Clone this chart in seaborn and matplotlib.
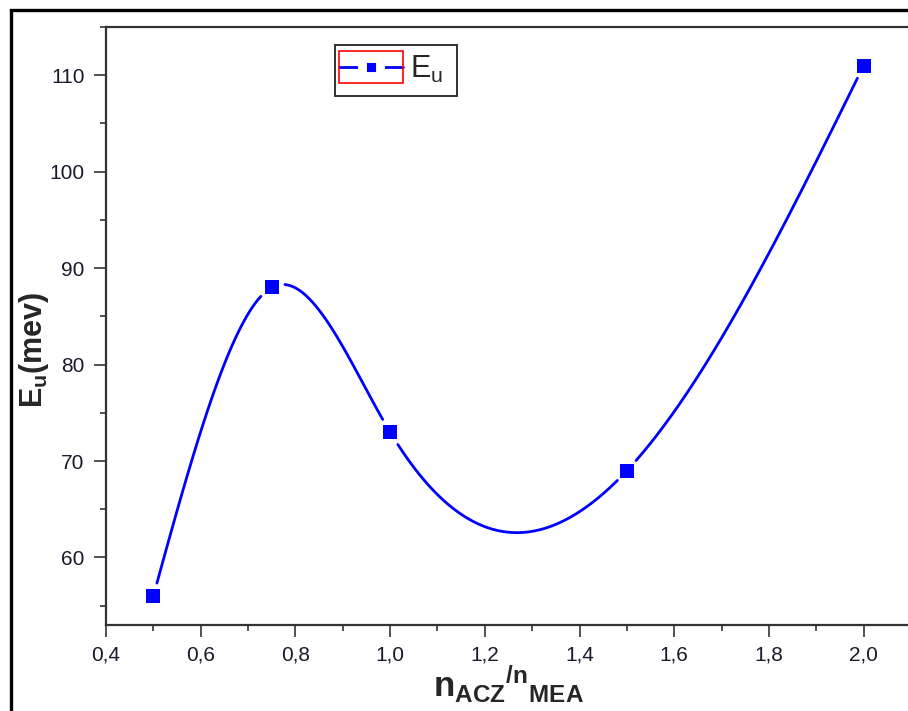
import numpy as np
import pandas as pd
import matplotlib
matplotlib.use('Agg')
import matplotlib.pyplot as plt
from matplotlib.lines import Line2D
from matplotlib.patches import Rectangle
from matplotlib.ticker import MultipleLocator, FuncFormatter
import seaborn as sns

# valores
ratio = [0.5, 0.75, 1.0, 1.5, 2.0]
eu_mev = [56, 88, 73, 69, 111]
serie = 'E$_{\\mathrm{u}}$'


def spline_natural(x, y, xs):
    # spline cubico natural, como la conexion "Spline" de Origin
    x = np.asarray(x, float)
    y = np.asarray(y, float)
    n = len(x)
    h = np.diff(x)
    A = np.zeros((n, n))
    b = np.zeros(n)
    A[0, 0] = A[-1, -1] = 1
    for i in range(1, n - 1):
        A[i, i - 1] = h[i - 1]
        A[i, i] = 2 * (h[i - 1] + h[i])
        A[i, i + 1] = h[i]
        b[i] = 6 * ((y[i + 1] - y[i]) / h[i] - (y[i] - y[i - 1]) / h[i - 1])
    M = np.linalg.solve(A, b)
    k = np.clip(np.searchsorted(x, xs) - 1, 0, n - 2)
    t0 = xs - x[k]
    t1 = x[k + 1] - xs
    hk = h[k]
    return (M[k] * t1 ** 3 / (6 * hk) + M[k + 1] * t0 ** 3 / (6 * hk)
            + (y[k] / hk - M[k] * hk / 6) * t1 + (y[k + 1] / hk - M[k + 1] * hk / 6) * t0)


sns.set_style('ticks')
plt.rcParams['font.family'] = ['Liberation Sans', 'DejaVu Sans']
plt.rcParams['mathtext.fontset'] = 'custom'
plt.rcParams['mathtext.rm'] = 'Liberation Sans'
plt.rcParams['mathtext.bf'] = 'Liberation Sans:bold'
plt.rcParams['mathtext.it'] = 'Liberation Sans:italic'

fig = plt.figure(figsize=(9.08, 7.11), dpi=100)
ax = fig.add_axes([106 / 908, 86 / 711, 805 / 908, 598 / 711])
ax.set_xlim(0.4, 2.1)
ax.set_ylim(53, 115)

# curva suave con huecos alrededor de los simbolos
xs = np.linspace(ratio[0], ratio[-1], 800)
ys = spline_natural(ratio, eu_mev, xs)
pix = ax.transData.transform(np.column_stack([xs, ys]))
pts = ax.transData.transform(np.column_stack([ratio, eu_mev]))
dist = np.min(np.hypot(pix[:, None, 0] - pts[None, :, 0], pix[:, None, 1] - pts[None, :, 1]), axis=1)
visible = dist > 13
seg = np.cumsum(np.r_[0, np.diff(visible.astype(int)) != 0])
curva = pd.DataFrame({'x': xs, 'y': ys, 'seg': seg})[visible]

sns.lineplot(data=curva, x='x', y='y', units='seg', estimator=None, sort=False,
             color='#0000ff', lw=2.0, ax=ax, legend=False)
sns.scatterplot(x=ratio, y=eu_mev, marker='s', s=105, color='#0000ff',
                edgecolor='#0000ff', linewidth=0, ax=ax, zorder=3, legend=False)

# ejes al estilo Origin
for lado in ['left', 'bottom', 'top']:
    ax.spines[lado].set_color('#333333')
    ax.spines[lado].set_linewidth(1.6)
ax.spines['right'].set_visible(False)
ax.xaxis.set_major_locator(MultipleLocator(0.2))
ax.xaxis.set_minor_locator(MultipleLocator(0.1))
ax.yaxis.set_major_locator(MultipleLocator(10))
ax.yaxis.set_minor_locator(MultipleLocator(5))
ax.xaxis.set_major_formatter(FuncFormatter(lambda v, p: f'{v:.1f}'.replace('.', ',')))
ax.yaxis.set_major_formatter(FuncFormatter(lambda v, p: f'{v:.0f}'))
ax.tick_params(which='major', direction='out', length=8.5, width=1.1, color='#222222',
               labelsize=15, labelcolor='#1a1a2a', top=False, right=False)
ax.tick_params(axis='y', which='major', pad=7)
ax.tick_params(axis='x', which='major', pad=6)
ax.tick_params(which='minor', direction='out', length=4.3, width=1.1, color='#222222',
               top=False, right=False)

ax.set_xlabel(r'$\mathbf{n_{ACZ}{}^{/n}{}_{MEA}}$', fontsize=25, labelpad=0)
ax.set_ylabel(r'$\mathbf{E_u}$(mev)', fontsize=22, fontweight='bold')
ax.yaxis.set_label_coords(-0.068, 0.46)

# leyenda: marco negro y recuadro rojo del simbolo como en Origin
mango = Line2D([], [], color='#0000ff', lw=2.0, marker='s', markersize=13.6,
               markerfacecolor='#0000ff', markeredgecolor='white', markeredgewidth=6.4)
leg = ax.legend([mango], [serie], loc='center left', fontsize=22,
                bbox_to_anchor=(339 / 908, 1 - 69 / 711), bbox_transform=fig.transFigure,
                borderaxespad=0, frameon=False, handlelength=2.09,
                handletextpad=0.23, borderpad=0)
fig.patches.append(Rectangle((335 / 908, 1 - 96 / 711), 122 / 908, 51 / 711, fill=False,
                             edgecolor='#222222', lw=1.3, transform=fig.transFigure, zorder=10))
fig.patches.append(Rectangle((339 / 908, 1 - 83 / 711), 64 / 908, 32 / 711, fill=False,
                             edgecolor='red', lw=1.2, transform=fig.transFigure, zorder=10))

# marco exterior
fig.patches.append(Rectangle((11 / 908, -0.2), 1.2, 1.2 - 10 / 711, fill=False,
                             edgecolor='black', lw=2.4, transform=fig.transFigure))

fig.savefig('out.png', dpi=100)
